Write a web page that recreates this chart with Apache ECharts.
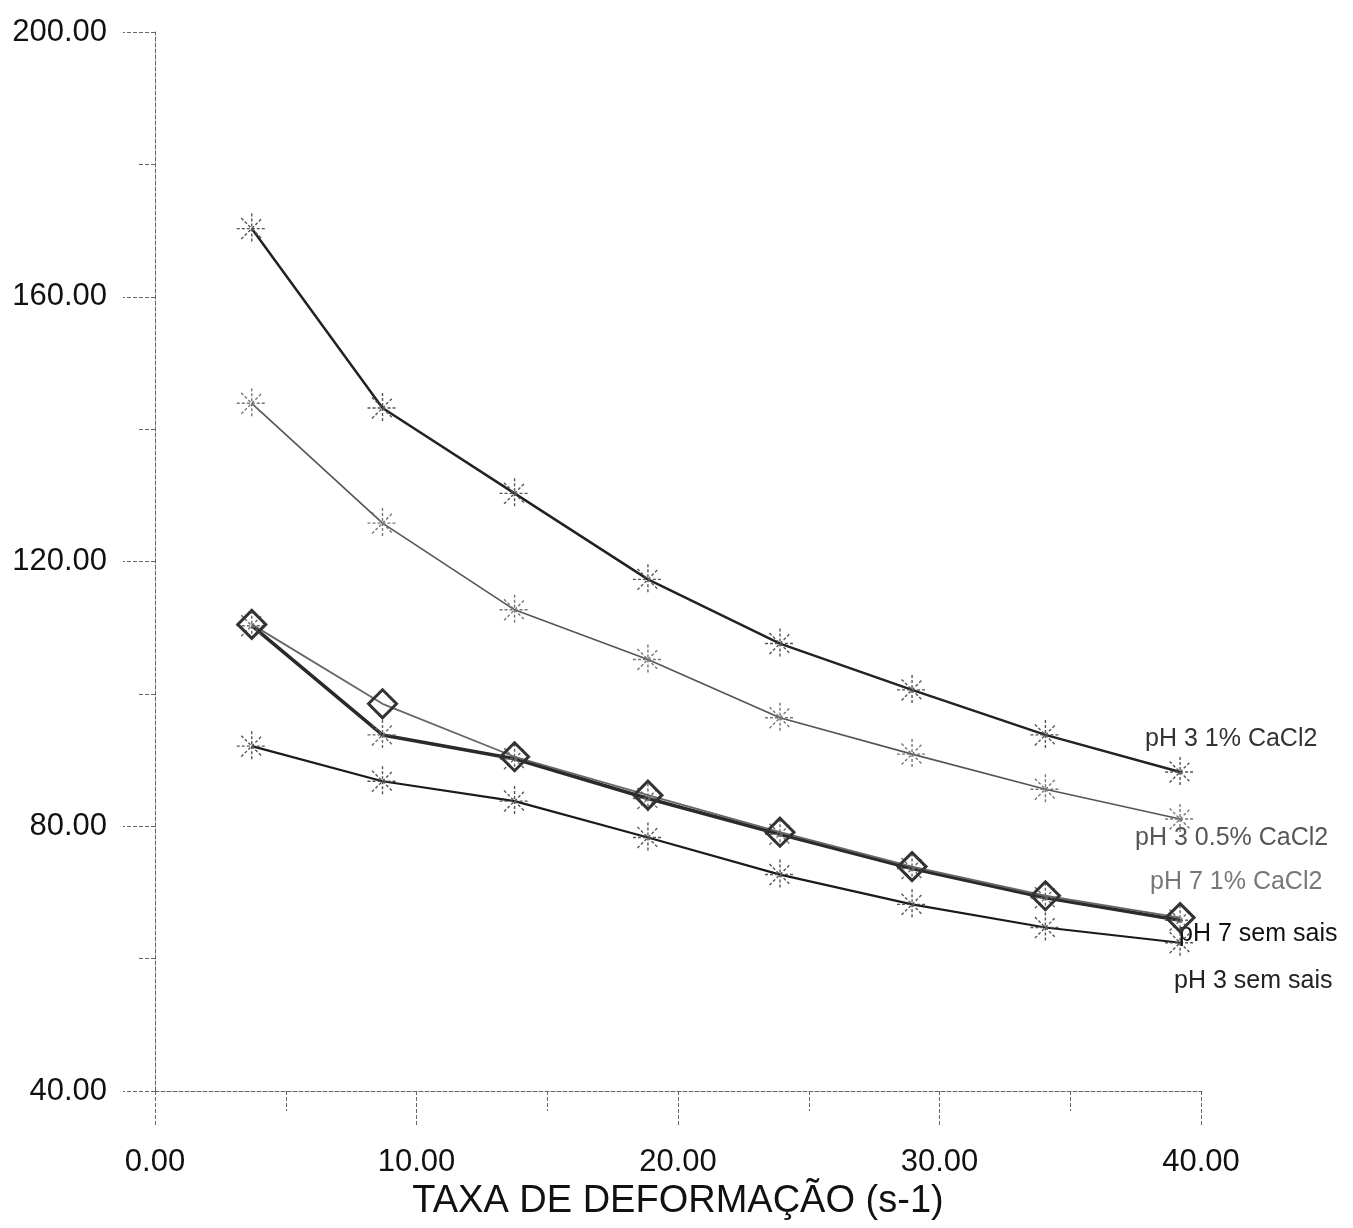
<!DOCTYPE html>
<html>
<head>
<meta charset="utf-8">
<script src="https://cdn.jsdelivr.net/npm/echarts@6/dist/echarts.min.js"></script>
<style>
html,body{margin:0;padding:0;background:#fff;}
#chart{width:1353px;height:1228px;}
</style>
</head>
<body>
<div id="chart"></div>
<script>
// Shear rate (x) values
const shearRate = [3.7, 8.7, 13.75, 18.85, 23.9, 28.95, 34.05, 39.2];
// Series values (apparent viscosity)
const ph3_1CaCl2   = [170.3, 143.2, 130.3, 117.3, 107.6, 100.6, 93.8, 88.2];
const ph3_05CaCl2  = [143.9, 125.8, 112.7, 105.2, 96.4, 90.9, 85.6, 81.1];
const ph7_1CaCl2   = [110.5, 98.5, 90.5, 84.7, 79.1, 73.9, 69.5, 66.2];
const ph7_semSais  = [110.3, 93.8, 90.2, 84.2, 78.8, 73.6, 69.2, 65.8];
const ph3_semSais  = [92.1, 86.8, 83.8, 78.3, 72.7, 68.2, 64.7, 62.4];
const seriesNames = ['pH 3 1% CaCl2', 'pH 3 0.5% CaCl2', 'pH 7 1% CaCl2', 'pH 7 sem sais', 'pH 3 sem sais'];
const xTicks = [0, 10, 20, 30, 40];
const yTicks = [40, 80, 120, 160, 200];
const xTitle = 'TAXA DE DEFORMAÇÃO (s-1)';

const pair = arr => arr.map((v, i) => [shearRate[i], v]);
const STAR = 'path://M0,-10L0,10M-10,0L10,0M-7,-7L7,7M-7,7L7,-7';
const FONT = '"Liberation Sans", Arial, sans-serif';

function lineSeries(name, data, opt) {
  return {
    name: name,
    type: 'line',
    data: pair(data),
    symbol: opt.symbol,
    symbolSize: opt.symbolSize,
    z: opt.z,
    lineStyle: { color: opt.lineColor, width: opt.lineWidth },
    itemStyle: {
      color: 'rgba(0,0,0,0)',
      borderColor: opt.markColor,
      borderWidth: opt.markWidth,
      borderType: opt.markDash || 'solid'
    },
    emphasis: { disabled: true },
    endLabel: {
      show: true,
      formatter: '{a}',
      color: opt.labelColor,
      fontFamily: FONT,
      fontSize: 25,
      offset: opt.labelOffset,
      align: 'left'
    },
    animation: false
  };
}

const chart = echarts.init(document.getElementById('chart'), null, { renderer: 'canvas' });
chart.setOption({
  backgroundColor: '#ffffff',
  animation: false,
  grid: { left: 155, right: 152, top: 32, bottom: 137, containLabel: false, outerBoundsMode: 'none' },
  xAxis: {
    type: 'value',
    min: xTicks[0], max: xTicks[xTicks.length - 1], interval: 10,
    name: xTitle,
    nameLocation: 'middle',
    nameGap: 90,
    nameTextStyle: { fontFamily: FONT, fontSize: 38, color: '#111' },
    axisLine: { lineStyle: { color: '#666', width: 1, type: [4, 2] } },
    axisTick: { show: true, inside: false, length: 35, lineStyle: { color: '#666', type: [4, 2] } },
    minorTick: { show: true, splitNumber: 2, length: 20, lineStyle: { color: '#666', type: [4, 2] } },
    splitLine: { show: false },
    axisLabel: {
      margin: 56, fontFamily: FONT, fontSize: 31, color: '#111',
      formatter: v => v.toFixed(2)
    }
  },
  yAxis: {
    type: 'value',
    min: yTicks[0], max: yTicks[yTicks.length - 1], interval: 40,
    axisLine: { show: true, lineStyle: { color: '#666', width: 1, type: [4, 2] } },
    axisTick: { show: true, inside: false, length: 32, lineStyle: { color: '#666', type: [4, 2] } },
    minorTick: { show: true, splitNumber: 2, length: 17, lineStyle: { color: '#666', type: [4, 2] } },
    splitLine: { show: false },
    axisLabel: {
      margin: 48, fontFamily: FONT, fontSize: 31, color: '#111',
      formatter: v => v.toFixed(2)
    }
  },
  series: [
    lineSeries(seriesNames[0], ph3_1CaCl2, {
      symbol: STAR, symbolSize: 30, z: 5,
      lineColor: '#222', lineWidth: 2.5, markColor: '#555', markWidth: 1.4, markDash: [3, 2],
      labelColor: '#333', labelOffset: [-43, -33]
    }),
    lineSeries(seriesNames[1], ph3_05CaCl2, {
      symbol: STAR, symbolSize: 30, z: 4,
      lineColor: '#555', lineWidth: 1.6, markColor: '#777', markWidth: 1.4, markDash: [3, 2],
      labelColor: '#555', labelOffset: [-53, 19]
    }),
    lineSeries(seriesNames[3], ph7_semSais, {
      symbol: STAR, symbolSize: 30, z: 3,
      lineColor: '#2a2a2a', lineWidth: 3.5, markColor: '#666', markWidth: 1.4, markDash: [3, 2],
      labelColor: '#111', labelOffset: [-9, 14]
    }),
    lineSeries(seriesNames[4], ph3_semSais, {
      symbol: STAR, symbolSize: 30, z: 3,
      lineColor: '#1a1a1a', lineWidth: 2.2, markColor: '#555', markWidth: 1.4, markDash: [3, 2],
      labelColor: '#222', labelOffset: [-14, 38]
    }),
    lineSeries(seriesNames[2], ph7_1CaCl2, {
      symbol: 'diamond', symbolSize: 28, z: 6,
      lineColor: '#666', lineWidth: 1.8, markColor: '#333', markWidth: 3,
      labelColor: '#777', labelOffset: [-38, -35]
    })
  ]
});
</script>
</body>
</html>
